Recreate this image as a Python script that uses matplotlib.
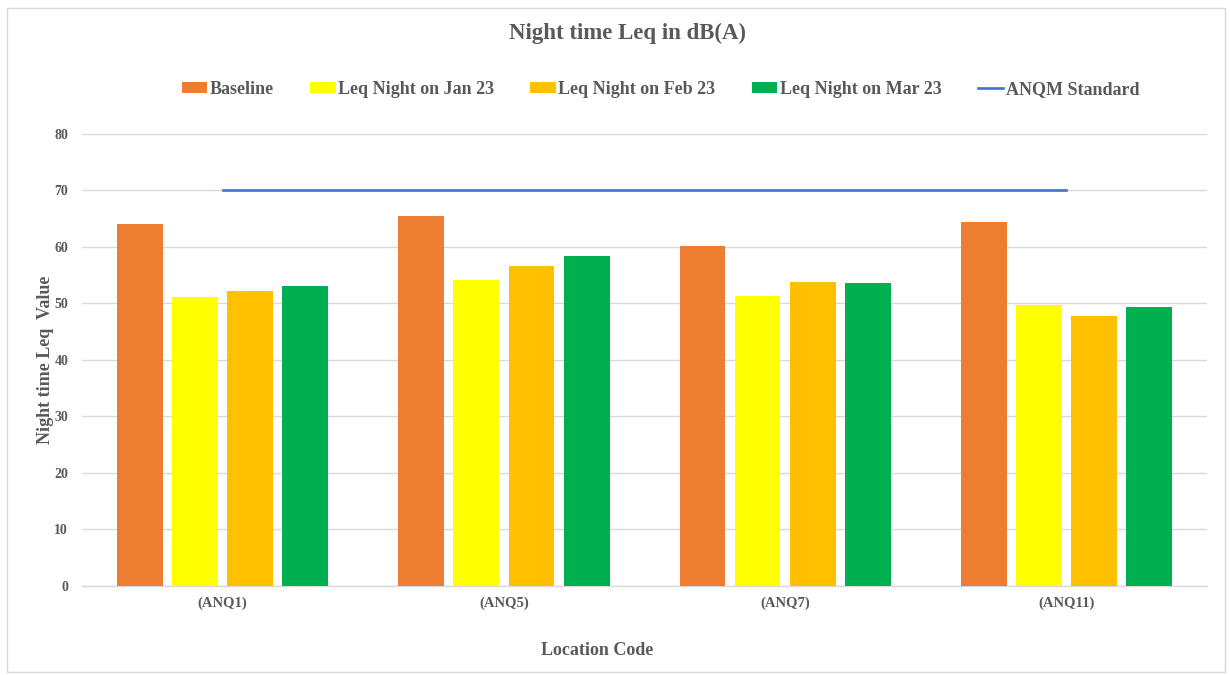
import matplotlib
matplotlib.use("Agg")
import matplotlib.pyplot as plt
import numpy as np
from matplotlib.patches import Rectangle

locations = ["(ANQ1)", "(ANQ5)", "(ANQ7)", "(ANQ11)"]
baseline = [64.1, 65.4, 60.2, 64.4]
jan_23 = [51.1, 54.1, 51.3, 49.8]
feb_23 = [52.2, 56.7, 53.8, 47.8]
mar_23 = [53.1, 58.4, 53.6, 49.3]
anqm_standard = [70, 70, 70, 70]

series_names = ["Baseline", "Leq Night on Jan 23", "Leq Night on Feb 23", "Leq Night on Mar 23"]
series_values = [baseline, jan_23, feb_23, mar_23]
series_colors = ["#ED7D31", "#FFFF00", "#FFC000", "#00B050"]

plt.rcParams["font.family"] = ["Liberation Serif", "DejaVu Serif"]
plt.rcParams["font.weight"] = "bold"
text_grey = "#595959"

fig = plt.figure(figsize=(12.3, 6.75), dpi=100)
ax = fig.add_axes([0.0667, 0.132, 0.9146, 0.6695])

x = np.arange(len(locations))
width = 0.163
step = 0.196
offsets = (np.arange(len(series_names)) - 1.5) * step

handles = []
for off, vals, col, name in zip(offsets, series_values, series_colors, series_names):
    h = ax.bar(x + off, vals, width=width, color=col, label=name, zorder=3)
    handles.append(h)

line, = ax.plot(x, anqm_standard, color="#4472C4", linewidth=1.9, label="ANQM Standard", zorder=4)
handles.append(line)

ax.set_xlim(-0.5, len(locations) - 0.5)
ax.set_ylim(0, 80)
ax.set_yticks(np.arange(0, 81, 10))
ax.set_xticks(x)
ax.set_xticklabels(locations, fontsize=10.5, fontweight="bold", color=text_grey)
ax.tick_params(axis="y", labelsize=10, labelcolor=text_grey, length=0, pad=10)
ax.tick_params(axis="x", length=0, pad=8)
ax.grid(axis="y", color="#D9D9D9", linewidth=1.0, zorder=0)
for s in ["top", "right", "left"]:
    ax.spines[s].set_visible(False)
ax.spines["bottom"].set_color("#D9D9D9")
ax.spines["bottom"].set_linewidth(1.0)

ax.set_ylabel("Night time Leq  Value", fontsize=13, fontweight="bold", color=text_grey, labelpad=0)
ax.set_xlabel("Location Code", fontsize=13, fontweight="bold", color=text_grey, labelpad=23, x=0.458)

fig.text(0.51, 0.951, "Night time Leq in dB(A)", ha="center", va="center",
         fontsize=16.5, fontweight="bold", color=text_grey)

fig.legend(handles=handles, labels=series_names + ["ANQM Standard"],
           loc="center", bbox_to_anchor=(0.537, 0.867), ncol=5, frameon=False,
           fontsize=13, labelcolor=text_grey, handlelength=1.4, handleheight=0.55,
           handletextpad=0.15, columnspacing=2.0)

fig.patches.append(Rectangle((0.006, 0.004), 0.99, 0.984, transform=fig.transFigure,
                             fill=False, edgecolor="#D9D9D9", linewidth=1.0))

fig.savefig("out.png", dpi=100, facecolor="white")
